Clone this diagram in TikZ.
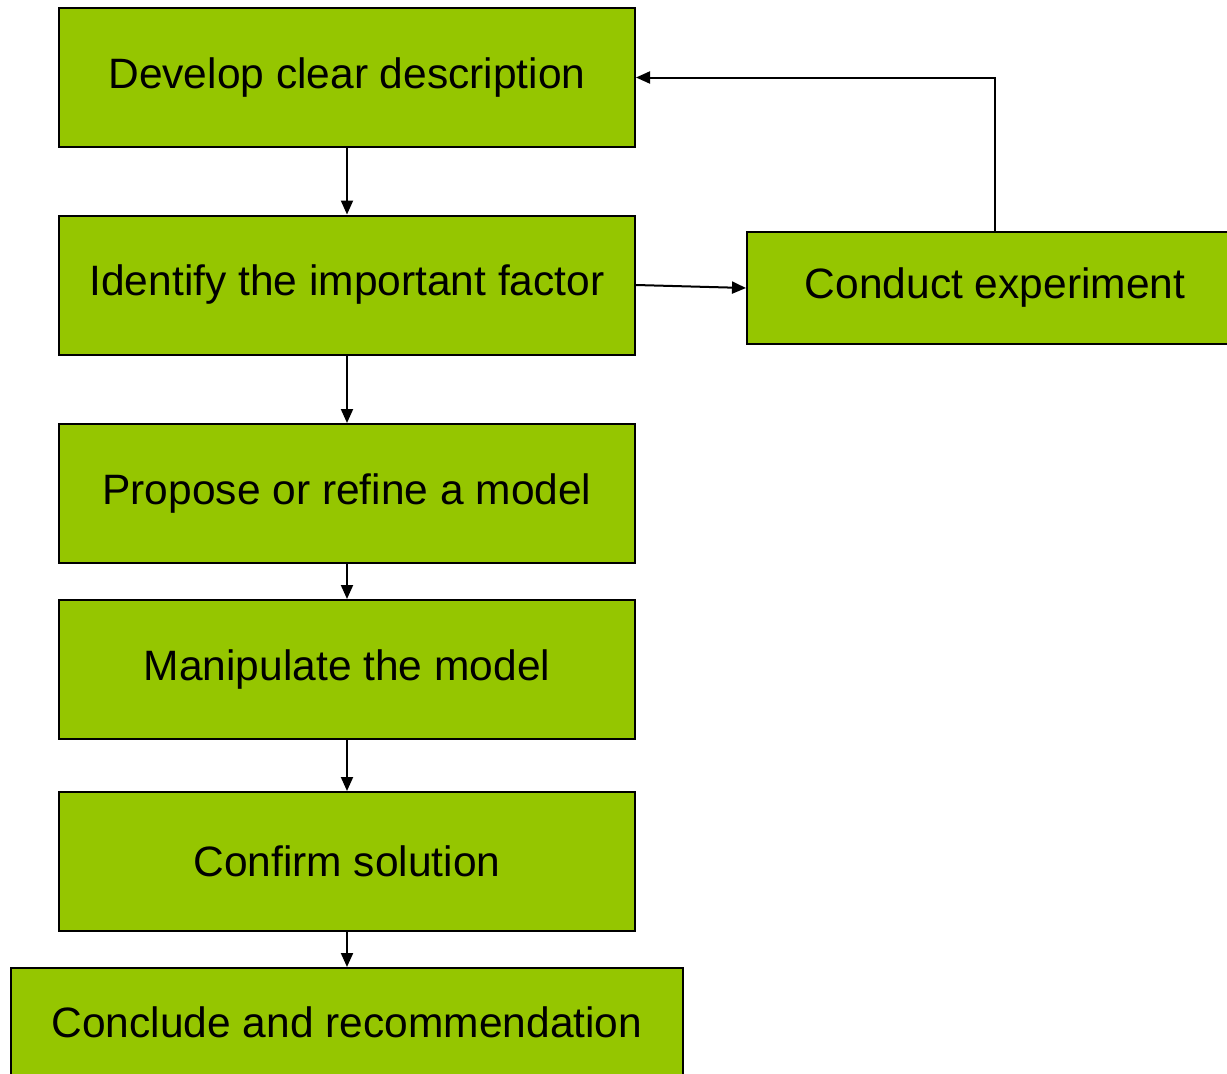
\documentclass[tikz,border=0pt]{standalone}
\usepackage{fontspec}
\setmainfont{Liberation Sans}
\usetikzlibrary{arrows.meta}
\definecolor{boxgreen}{RGB}{149,198,0}
\begin{document}
\begin{tikzpicture}[x=1pt,y=1pt,
  stepbox/.style={draw=black,line width=2pt,fill=boxgreen,inner sep=0pt,
    minimum width=576pt,minimum height=139pt,
    font=\fontsize{42.5}{50}\selectfont},
  conn/.style={draw=black,line width=2pt,-{Triangle[length=14pt,width=12pt]}}]
\useasboundingbox (0,0) rectangle (1227,-1074);
\clip (0,0) rectangle (1227,-1074);
\node[stepbox] (b1) at (347,-77.5) {Develop clear description};
\node[stepbox] (b2) at (347,-285) {Identify the important factor};
\node[stepbox] (b3) at (347,-493.5) {Propose or refine a model};
\node[stepbox] (b4) at (347,-669.5) {Manipulate the model};
\node[stepbox] (b5) at (347,-861.5) {Confirm solution};
\node[stepbox,minimum width=672pt,minimum height=108pt] (b6) at (347,-1022) {Conclude and recommendation};
\node[stepbox,minimum width=496pt,minimum height=112pt] (ce) at (995,-288) {Conduct experiment};
\draw[conn] (b1.south) -- (b2.north);
\draw[conn] (b2.south) -- (b3.north);
\draw[conn] (b3.south) -- (b4.north);
\draw[conn] (b4.south) -- (b5.north);
\draw[conn] (b5.south) -- (b6.north);
\draw[conn] (b2.east) -- (ce.west);
\draw[conn] (ce.north) |- (b1.east);
\end{tikzpicture}
\end{document}
